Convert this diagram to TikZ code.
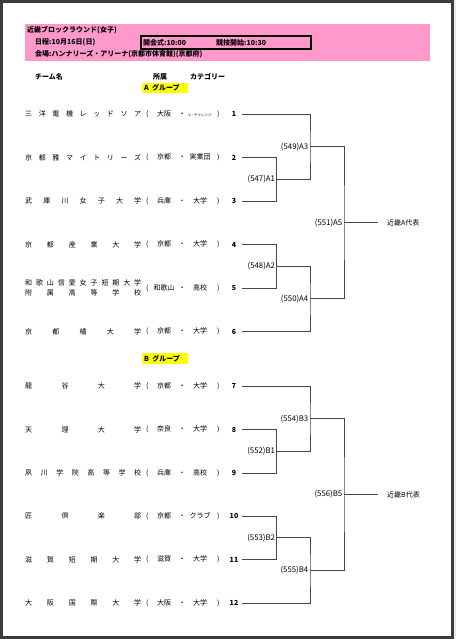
\documentclass[tikz,border=0pt]{standalone}
\usepackage{fontspec}
\setmainfont{Noto Sans CJK JP}
\usepackage{tikz}
\definecolor{hdrpink}{RGB}{255,153,204}
\definecolor{grphl}{RGB}{255,255,0}
\definecolor{framegray}{RGB}{60,60,60}
\definecolor{linegray}{gray}{0.28}

\newlength\namew
\setlength\namew{116pt}
\makeatletter
\newcommand\spreadname[1]{\makebox[\namew][s]{\@tfor\sp@ch:=#1\do{\sp@ch\hfill}\unskip}}
\makeatother
\newcommand\affil[2]{\makebox[8pt]{(}\makebox[26pt]{#1}\makebox[10pt]{・}\makebox[26pt]{#2}\makebox[10pt]{)}}

\tikzset{
  teamname/.style={anchor=west, inner sep=0pt, font=\fontsize{7}{9.5}\selectfont, align=left},
  teamaff/.style={anchor=west, inner sep=0pt, font=\fontsize{7}{8}\selectfont},
  seed/.style={inner sep=0pt, minimum width=16pt, font=\fontsize{7}{8}\selectfont\bfseries},
  matchlbl/.style={anchor=east, inner xsep=1.5pt, inner ysep=0pt, font=\fontsize{7.8}{9}\selectfont},
  winner/.style={anchor=west, inner sep=0pt, font=\fontsize{7}{8}\selectfont},
  bracket/.style={draw=linegray, line width=0.85pt},
  hdrtext/.style={anchor=west, inner sep=0pt, font=\fontsize{7}{8}\selectfont\bfseries},
}

\begin{document}
\begin{tikzpicture}[x=1pt, y=-1pt]
		\def\xa{276.7}
		\def\xb{310}
		\def\xc{344}

		% --- Page and frame ---
		\fill[gray!15] (0,0) rectangle (456,639);
		\draw[framegray, fill=white, line width=3pt] (1.5,1.5) rectangle (452,637.5);
		\useasboundingbox (0,0) rectangle (456,639);

		% --- Header block ---
		\fill[hdrpink] (25,24) rectangle (430,61);
		\node[hdrtext] (title) at (27,30.5) {近畿ブロックラウンド(女子)};
		\node[hdrtext] (date) at (35,42.5) {日程:10月16日(日)};
		\node[hdrtext] (venue) at (35,54) {会場:ハンナリーズ・アリーナ(京都市体育館)(京都府)};
		\draw[black, line width=1.3pt] (141,36) rectangle (311,49);
		\node[hdrtext] (open) at (143,42.5) {開会式:10:00};
		\node[hdrtext] (start) at (216,42.5) {競技開始:10:30};

		% --- Column headers ---
		\node[hdrtext] (colteam) at (35,77) {チーム名};
		\node[hdrtext] (colaff) at (153,77) {所属};
		\node[hdrtext] (colcat) at (190,77) {カテゴリー};

		% --- Group A ---
		\fill[grphl] (142,83) rectangle (188,93);
		\node[hdrtext] (grpA) at (144,88) {A\ \ グループ};

		\node[teamname] (tm1) at (25,114) {\spreadname{三洋電機レッドソア}};
		\node[teamaff] (af1) at (143,114) {\affil{大阪}{\fontsize{3.5}{4}\selectfont V・チャレンジ}};
		\node[seed] (n1) at (234,114) {1};

		\node[teamname] (tm2) at (25,157.5) {\spreadname{京都雅マイトリーズ}};
		\node[teamaff] (af2) at (143,157.5) {\affil{京都}{実業団}};
		\node[seed] (n2) at (234,157.5) {2};

		\node[teamname] (tm3) at (25,201) {\spreadname{武庫川女子大学}};
		\node[teamaff] (af3) at (143,201) {\affil{兵庫}{大学}};
		\node[seed] (n3) at (234,201) {3};

		\node[teamname] (tm4) at (25,244.5) {\spreadname{京都産業大学}};
		\node[teamaff] (af4) at (143,244.5) {\affil{京都}{大学}};
		\node[seed] (n4) at (234,244.5) {4};

		\node[teamname] (tm5) at (25,288) {\spreadname{和歌山信愛女子短期大学}\\\spreadname{附属高等学校}};
		\node[teamaff] (af5) at (143,288) {\affil{和歌山}{高校}};
		\node[seed] (n5) at (234,288) {5};

		\node[teamname] (tm6) at (25,331.5) {\spreadname{京都橘大学}};
		\node[teamaff] (af6) at (143,331.5) {\affil{京都}{大学}};
		\node[seed] (n6) at (234,331.5) {6};

		% --- Bracket A ---
		\coordinate (a1) at (\xa,179.25);
		\coordinate (a2) at (\xa,266.25);
		\coordinate (a3) at (\xb,146.6);
		\coordinate (a4) at (\xb,298.9);
		\coordinate (a5) at (\xc,222.75);
		\draw[bracket] (n2.east) -| (a1) |- (n3.east);
		\draw[bracket] (n4.east) -| (a2) |- (n5.east);
		\draw[bracket] (n1.east) -| (a3) |- (a1);
		\draw[bracket] (a2) -| (a4) |- (n6.east);
		\draw[bracket] (a3) -| (a5) |- (a4);
		\node[matchlbl] (mA1) at (a1) {(547)A1};
		\node[matchlbl] (mA2) at (a2) {(548)A2};
		\node[matchlbl] (mA3) at (a3) {(549)A3};
		\node[matchlbl] (mA4) at (a4) {(550)A4};
		\node[matchlbl] (mA5) at (a5) {(551)A5};
		\node[winner] (wA) at (387,222.75) {近畿A代表};
		\draw[bracket, shorten >=9pt] (a5) -- (wA.west);

		% --- Group B ---
		\fill[grphl] (142,353) rectangle (188,364);
		\node[hdrtext] (grpB) at (144,358.5) {B\ \ グループ};

		\node[teamname] (tm7) at (25,386) {\spreadname{龍谷大学}};
		\node[teamaff] (af7) at (143,386) {\affil{京都}{大学}};
		\node[seed] (n7) at (234,386) {7};

		\node[teamname] (tm8) at (25,429.5) {\spreadname{天理大学}};
		\node[teamaff] (af8) at (143,429.5) {\affil{奈良}{大学}};
		\node[seed] (n8) at (234,429.5) {8};

		\node[teamname] (tm9) at (25,473) {\spreadname{夙川学院高等学校}};
		\node[teamaff] (af9) at (143,473) {\affil{兵庫}{高校}};
		\node[seed] (n9) at (234,473) {9};

		\node[teamname] (tm10) at (25,516) {\spreadname{匠倶楽部}};
		\node[teamaff] (af10) at (143,516) {\affil{京都}{クラブ}};
		\node[seed] (n10) at (234,516) {10};

		\node[teamname] (tm11) at (25,559.5) {\spreadname{滋賀短期大学}};
		\node[teamaff] (af11) at (143,559.5) {\affil{滋賀}{大学}};
		\node[seed] (n11) at (234,559.5) {11};

		\node[teamname] (tm12) at (25,603) {\spreadname{大阪国際大学}};
		\node[teamaff] (af12) at (143,603) {\affil{大阪}{大学}};
		\node[seed] (n12) at (234,603) {12};

		% --- Bracket B ---
		\coordinate (b1) at (\xa,451.25);
		\coordinate (b2) at (\xa,537.75);
		\coordinate (b3) at (\xb,418.6);
		\coordinate (b4) at (\xb,570.4);
		\coordinate (b5) at (\xc,494.5);
		\draw[bracket] (n8.east) -| (b1) |- (n9.east);
		\draw[bracket] (n10.east) -| (b2) |- (n11.east);
		\draw[bracket] (n7.east) -| (b3) |- (b1);
		\draw[bracket] (b2) -| (b4) |- (n12.east);
		\draw[bracket] (b3) -| (b5) |- (b4);
		\node[matchlbl] (mB1) at (b1) {(552)B1};
		\node[matchlbl] (mB2) at (b2) {(553)B2};
		\node[matchlbl] (mB3) at (b3) {(554)B3};
		\node[matchlbl] (mB4) at (b4) {(555)B4};
		\node[matchlbl] (mB5) at (b5) {(556)B5};
		\node[winner] (wB) at (387,494.5) {近畿B代表};
		\draw[bracket, shorten >=9pt] (b5) -- (wB.west);
	\end{tikzpicture}
\end{document}
